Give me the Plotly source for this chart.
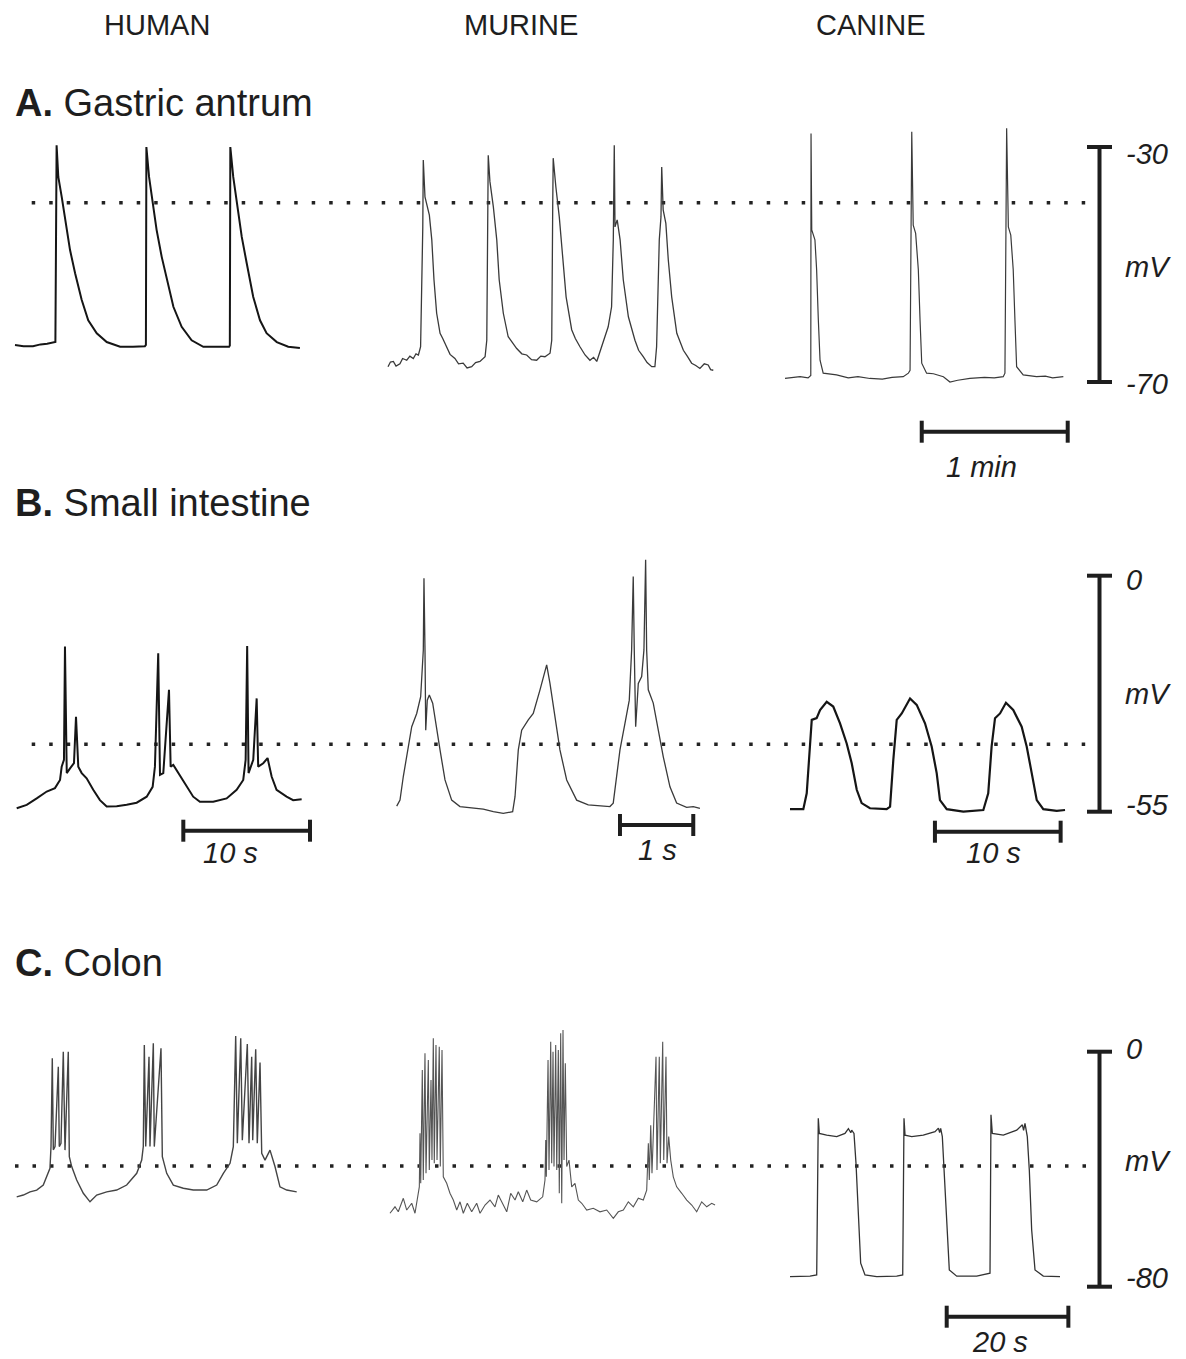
import plotly.graph_objects as go

W, H = 1186, 1359          # reference picture size
OX, OY = 8, 8              # page body margin that the browser adds around the figure
FW, FH = W - OX, H - OY    # figure size so that figure pixels line up with the reference

# ---------------- data: (time in s, membrane potential in mV) ----------------
human_a = [(0.0,-63.7),(3.5,-63.9),(7.4,-63.9),(10.5,-63.6),(13.2,-63.5),(16.6,-63.2),(17.1,-29.7),
           (17.8,-35.1),(19.2,-38.5),(20.6,-42.4),(22.6,-47.5),(24.7,-51.5),(27.4,-56.0),(30.1,-59.5),
           (33.6,-61.7),(37.7,-63.2),(43.2,-64.0),(48.5,-64.0),(53.4,-63.9),(53.8,-63.7),(54.0,-30.0),
           (55.1,-35.1),(56.6,-39.5),(58.2,-44.1),(60.3,-48.7),(62.4,-52.6),(65.1,-57.2),(68.5,-60.6),
           (72.6,-62.9),(77.4,-64.0),(82.9,-64.0),(88.0,-64.0),(88.3,-63.8),(88.5,-30.0),(89.7,-35.1),
           (91.4,-40.2),(93.2,-45.3),(95.2,-49.7),(97.9,-55.5),(100.7,-59.5),(103.4,-61.7),(107.6,-63.2),
           (112.3,-64.0),(117.1,-64.2)]

murine_a = [(0.0,-67.4),(1.0,-66.6),(2.2,-66.5),(3.3,-67.3),(4.9,-66.9),(6.0,-66.0),(7.7,-66.3),(9.0,-65.6),
            (10.4,-66.0),(11.5,-65.2),(12.5,-65.4),(13.4,-64.0),(14.3,-43.6),(14.5,-32.2),(15.2,-38.5),
            (17.0,-41.6),(18.0,-45.8),(18.9,-52.6),(20.0,-58.3),(21.4,-61.7),(22.5,-62.6),(24.1,-64.0),
            (25.5,-65.3),(27.5,-66.0),(29.0,-66.9),(30.9,-66.8),(32.5,-67.6),(34.4,-67.4),(36.0,-66.7),
            (37.8,-66.5),(39.0,-66.1),(39.9,-65.7),
            (40.6,-62.9),(41.1,-40.2),(41.2,-31.4),(41.9,-35.9),(43.3,-40.2),(44.7,-45.8),(45.7,-52.6),
            (47.4,-58.3),(49.4,-62.3),(51.0,-63.2),(52.9,-64.3),(55.0,-65.2),(57.0,-65.4),(59.0,-66.2),
            (61.1,-66.3),(62.8,-65.6),(64.5,-65.7),(66.6,-65.1),
            (67.3,-62.9),(67.7,-40.2),(67.9,-31.9),(69.0,-36.8),(70.4,-41.9),(71.8,-48.7),(73.2,-55.5),
            (75.5,-61.1),(77.0,-62.6),(78.9,-64.0),(81.0,-65.4),(83.0,-66.3),(84.5,-65.8),(85.8,-66.5),
            (87.3,-64.6),(88.5,-62.9),(90.5,-60.6),(91.9,-57.2),
            (92.6,-45.8),(93.0,-29.7),(93.3,-43.6),(94.2,-42.4),(95.4,-45.8),(96.7,-52.6),(98.8,-58.9),
            (101.5,-62.9),(103.0,-64.6),(104.9,-65.7),(106.5,-66.7),(108.4,-67.4),(109.7,-67.4),
            (110.4,-64.0),(111.5,-45.8),(112.2,-41.9),(112.5,-33.4),(113.1,-40.7),(114.2,-43.0),
            (115.2,-49.2),(116.6,-55.5),(118.7,-61.7),(121.4,-64.6),(123.0,-65.6),(124.8,-66.8),
            (126.5,-67.2),(128.2,-67.7),(130.0,-66.9),(131.6,-67.1),(132.6,-67.9),(133.7,-68.0)]

canine_a = [(0.0,-69.4),(3.0,-69.2),(6.2,-69.1),(9.5,-69.3),(10.6,-68.9),(10.7,-27.7),(11.0,-44.1),
            (12.3,-45.8),(13.0,-50.9),(13.7,-59.4),(14.4,-66.3),(15.7,-68.5),(18.0,-68.6),(21.2,-68.8),
            (26.0,-69.3),(30.0,-69.1),(34.9,-69.4),(40.0,-69.5),(44.0,-69.2),(48.6,-69.1),(50.7,-68.5),
            (51.4,-68.0),(52.1,-27.4),(52.7,-43.3),(53.7,-44.7),(54.8,-50.9),(55.5,-59.4),(56.2,-66.8),
            (58.2,-68.5),(61.0,-68.6),(65.1,-69.1),(67.8,-70.0),(71.0,-69.7),(76.0,-69.4),(82.0,-69.2),
            (86.0,-69.3),(89.7,-69.1),
            (90.4,-68.5),(91.1,-26.8),(91.8,-43.6),(92.8,-45.0),(93.8,-50.9),(94.5,-59.4),(95.2,-67.4),
            (97.9,-68.8),(100.5,-68.9),(103.4,-69.1),(107.0,-69.0),(110.0,-69.3),(114.4,-69.1)]

human_b = [(0.00,-54.2),(0.79,-53.4),(1.58,-51.9),(2.37,-50.3),(3.02,-49.5),(3.42,-47.6),(3.55,-44.5),
           (3.73,-42.9),(3.81,-16.5),(3.95,-46.0),(4.21,-44.9),(4.52,-43.7),(4.68,-32.9),(4.86,-44.5),
           (5.13,-46.0),(5.52,-47.2),(6.04,-49.9),(6.57,-52.3),(7.10,-53.8),(7.89,-53.7),(8.68,-53.4),
           (9.47,-52.9),(10.26,-51.5),(10.73,-49.2),(10.91,-44.5),(11.17,-18.1),(11.31,-46.4),
           (11.57,-46.0),(12.02,-26.6),(12.15,-44.5),(12.36,-44.1),(12.75,-46.0),(13.41,-49.2),
           (13.93,-51.5),(14.46,-52.7),(15.51,-52.7),(16.57,-51.9),(17.36,-49.9),(17.88,-47.6),
           (18.07,-42.9),(18.19,-16.4),(18.30,-46.0),(18.67,-42.9),(18.94,-28.6),(19.06,-44.5),
           (19.46,-43.7),(19.80,-42.5),(20.12,-46.8),(20.51,-49.9),(21.30,-51.5),(21.82,-52.3),
           (22.49,-52.1)]

murine_b = [(0.000,-53.7),(0.045,-52.3),(0.090,-46.8),(0.158,-39.8),(0.205,-35.2),(0.273,-32.1),
            (0.327,-28.2),(0.363,-17.3),(0.372,-0.6),(0.386,-17.3),(0.396,-36.0),(0.417,-29.0),
            (0.445,-27.8),(0.491,-29.7),(0.546,-35.2),(0.591,-40.6),(0.659,-47.6),(0.750,-52.3),
            (0.863,-53.8),(1.045,-54.2),(1.181,-54.4),(1.318,-55.0),(1.454,-55.4),(1.582,-55.0),
            (1.614,-51.5),(1.659,-40.6),(1.705,-36.0),(1.795,-33.6),(1.863,-32.1),(1.955,-26.6),
            (2.046,-20.8),(2.091,-25.1),(2.159,-32.9),(2.227,-40.6),(2.319,-47.6),(2.455,-52.3),
            (2.613,-53.4),(2.773,-53.7),(2.909,-53.8),(2.954,-53.0),(2.991,-47.6),(3.046,-40.6),
            (3.114,-34.4),(3.173,-29.0),(3.205,-17.3),(3.227,-0.2),(3.241,-17.3),(3.260,-35.2),
            (3.296,-25.1),(3.342,-23.5),(3.373,-17.3),(3.396,3.7),(3.410,-17.3),(3.432,-26.6),
            (3.500,-29.7),(3.568,-36.0),(3.637,-42.2),(3.728,-49.2),(3.819,-53.0),(3.955,-54.0),
            (4.046,-53.8),(4.137,-54.2)]

canine_b = [(0.00,-54.4),(1.06,-54.4),(1.33,-50.7),(1.59,-39.8),(1.73,-33.6),(2.12,-33.2),(2.39,-31.3),
            (2.92,-29.4),(3.44,-30.5),(3.98,-34.4),(4.51,-39.1),(4.91,-43.7),(5.31,-49.9),(5.70,-53.0),
            (6.36,-54.2),(7.69,-54.4),(7.96,-53.8),(8.22,-42.9),(8.49,-33.6),(8.89,-32.1),(9.55,-28.6),
            (10.08,-30.1),(10.74,-34.4),(11.27,-39.8),(11.67,-46.0),(11.93,-52.3),(12.47,-54.4),
            (13.79,-55.0),(15.38,-54.6),(15.77,-50.7),(16.04,-39.8),(16.31,-33.2),(16.71,-32.1),
            (17.18,-29.6),(17.76,-31.3),(18.43,-35.2),(18.83,-39.8),(19.23,-46.0),(19.63,-52.3),
            (20.15,-54.4),(21.22,-54.8),(21.88,-54.6)]

human_c = [(0.00,-49.4),(1.09,-48.8),(2.19,-47.7),(3.29,-47.1),(4.37,-45.4),(4.93,-42.6),(5.47,-39.7),
           (5.64,-32.3),(5.85,-2.2),(6.02,-33.4),(6.30,-32.3),(6.84,-5.1),(7.00,-32.3),(7.28,-31.2),
           (7.66,0.0),(7.94,-33.5),(8.48,0.0),(8.65,-35.7),(9.04,-39.1),(9.86,-43.7),(10.95,-48.2),
           (12.05,-51.1),(13.15,-48.8),(14.80,-47.7),(16.44,-47.1),(18.08,-45.4),(19.73,-41.4),
           (20.55,-36.9),(20.81,-32.3),(20.98,2.3),(21.21,-32.3),(21.75,-1.7),(21.91,-32.3),
           (22.46,2.9),(22.62,-32.3),(23.72,1.2),(23.94,-35.7),(24.66,-41.4),(25.75,-45.4),
           (27.39,-46.5),(29.03,-47.1),(31.24,-47.1),(32.88,-45.4),(33.97,-41.4),(35.07,-38.0),
           (35.61,-32.3),(36.00,5.3),(36.27,-31.2),(36.83,4.6),(37.09,-30.1),(37.91,2.6),(38.19,-31.2),
           (38.63,-1.7),(38.80,-30.1),(39.29,0.8),(39.55,-31.2),(40.00,-3.7),(40.28,-34.6),
           (40.82,-36.9),(41.64,-33.5),(42.46,-39.1),(43.28,-46.0),(44.39,-47.1),(46.03,-47.7)]

murine_c = [(0.00,-55.0),(0.82,-52.8),(1.36,-54.5),(2.19,-49.9),(2.75,-53.9),(3.57,-51.6),(4.11,-55.0),
            (4.65,-48.2),(4.82,-46.0),(4.93,-27.8),(5.05,-44.8),(5.31,-6.2),(5.47,-43.7),(5.75,-0.5),
            (5.92,-41.4),(6.30,-2.8),(6.46,-40.3),(6.74,-9.6),(6.90,-36.9),(7.12,4.6),(7.28,-38.0),
            (7.56,2.3),(7.73,-36.9),(8.10,1.7),(8.27,-39.1),(8.55,0.6),(8.76,-42.6),(9.32,-44.8),
            (9.86,-48.2),(10.41,-50.5),(10.97,-53.9),(11.51,-51.1),(12.05,-55.0),(12.71,-51.6),
            (13.43,-54.5),(14.25,-51.6),(14.80,-55.0),(15.62,-52.2),(16.44,-50.5),(17.26,-52.8),
            (17.80,-48.8),(18.63,-52.2),(19.19,-54.5),(19.84,-48.2),(20.55,-50.5),(21.09,-47.7),
            (21.82,-51.1),(22.47,-47.1),(23.13,-50.5),(24.12,-51.1),(25.10,-49.4),(25.48,-43.7),
            (25.60,-30.1),(25.70,-42.6),(25.98,-2.8),(26.14,-40.3),(26.42,3.4),(26.58,-38.0),
            (26.80,0.0),(26.96,-39.1),(27.24,2.3),(27.41,-40.3),(27.67,0.6),(27.83,-48.2),(28.06,6.3),
            (28.23,-51.6),(28.44,7.4),(28.61,-36.9),(28.82,-3.9),(29.05,-39.1),(29.43,-36.9),
            (29.87,-46.0),(30.41,-44.8),(30.96,-50.5),(31.52,-51.6),(32.34,-53.9),(33.42,-53.3),
            (34.52,-54.5),(35.63,-53.9),(36.71,-56.7),(37.53,-54.5),(38.36,-53.9),(39.18,-51.1),
            (40.00,-52.8),(40.82,-49.9),(41.64,-50.5),(42.20,-47.1),(42.47,-31.2),(42.63,-43.7),
            (42.86,-25.0),(43.07,-41.4),(43.73,-1.7),(43.89,-40.3),(44.27,-1.7),(44.44,-38.0),
            (44.83,3.4),(45.00,-36.9),(45.37,-1.7),(45.54,-38.0),(45.82,-28.9),(46.15,-36.9),
            (46.57,-42.6),(47.13,-46.0),(47.96,-48.2),(48.78,-50.5),(49.60,-52.2),(50.42,-54.5),
            (51.24,-51.1),(52.07,-52.8),(52.89,-51.6),(53.43,-52.2)]

canine_c = [(0.00,-76.6),(3.29,-76.4),(4.39,-76.0),(4.65,-22.7),(4.82,-27.8),(6.03,-28.4),(7.68,-28.9),
            (9.04,-27.8),(9.60,-26.2),(10.00,-27.6),(10.14,-26.7),(10.52,-27.8),(10.85,-38.0),
            (11.23,-55.0),(11.62,-72.0),(12.33,-76.0),(14.25,-76.6),(17.54,-76.4),(18.53,-76.0),
            (18.74,-22.7),(18.91,-28.4),(20.01,-28.9),(21.91,-28.4),(23.84,-27.2),(24.40,-26.0),
            (24.60,-27.5),(24.77,-26.1),(25.04,-28.9),(25.32,-40.3),(25.76,-60.7),(26.19,-74.3),
            (27.41,-76.4),(30.69,-76.4),(32.88,-75.4),(33.04,-21.5),(33.26,-27.8),(35.07,-28.4),
            (37.27,-26.7),(38.20,-24.9),(38.40,-26.8),(38.63,-24.4),(39.01,-28.9),(39.34,-40.3),
            (39.73,-60.7),(40.28,-74.3),(41.64,-76.4),(44.39,-76.6)]

# reference (dotted) levels and voltage scale bars, mV
dotted_mv = {'A': -39.5, 'B': -39.3, 'C': -38.9}
vbar_mv = {'A': (-30, -70), 'B': (0, -55), 'C': (0, -80)}
vbar_labels = {'A': ('-30', 'mV', '-70'), 'B': ('0', 'mV', '-55'), 'C': ('0', 'mV', '-80')}
# time scale bars: (panel index, start s, length s, label)
tbars = [(3, 56.2, 60, '1 min'), (4, 13.15, 10, '10 s'), (5, 3.046, 1, '1 s'),
         (6, 11.53, 10, '10 s'), (9, 25.76, 20, '20 s')]
species = ['HUMAN', 'MURINE', 'CANINE']
titles = [('A.', 'Gastric antrum'), ('B.', 'Small intestine'), ('C.', 'Colon')]

# ---------------- layout geometry (reference pixels) ----------------
ROWS = {
    'A': dict(ref_mv=-30.0, ref_py=147.0, ppmv=5.875, dom=(110, 400), idx=1),
    'B': dict(ref_mv=0.0, ref_py=575.7, ppmv=4.291, dom=(540, 835), idx=2),
    'C': dict(ref_mv=0.0, ref_py=1051.7, ppmv=2.9375, dom=(1010, 1300), idx=3),
}
# row, data, x-origin px, px per second, domain px, line style
PANELS = [
    ('A', human_a, 15.0, 2.433, (10, 350), dict(color='#151515', width=2.0)),
    ('A', murine_a, 388.0, 2.433, (360, 745), dict(color='#3a3a3a', width=1.3)),
    ('A', canine_a, 785.0, 2.433, (760, 1080), dict(color='#3a3a3a', width=1.2)),
    ('B', human_b, 16.7, 12.67, (10, 350), dict(color='#151515', width=2.0)),
    ('B', murine_b, 396.7, 73.3, (360, 745), dict(color='#3a3a3a', width=1.3)),
    ('B', canine_b, 790.0, 12.57, (760, 1080), dict(color='#151515', width=2.2)),
    ('C', human_c, 16.7, 6.083, (10, 350), dict(color='#444444', width=1.4)),
    ('C', murine_c, 390.0, 6.083, (360, 745), dict(color='#555555', width=1.1)),
    ('C', canine_c, 790.0, 6.083, (760, 1080), dict(color='#333333', width=1.3)),
]
dot_start_px = {'A': 31.7, 'B': 31.7, 'C': 15.0}
VBAR_X = 1099.5
VLAB_PY = {'A': (154, 267, 384), 'B': (580, 694, 805), 'C': (1049, 1161, 1278)}
TBAR_PY = {3: 431.7, 4: 830.7, 5: 825.0, 6: 831.7, 9: 1316.7}
TLAB_PX = {3: (981, 467), 4: (230, 853), 5: (657, 850), 6: (993, 853), 9: (1000, 1342)}
HEAD_PX = [(157, 25), (521, 25), (871, 25)]
TITLE_PY = [103, 503, 963]

FONT = 'Liberation Sans, Arial, Helvetica, sans-serif'
INK = '#1e1e1e'


def mv_at(row, py):
    r = ROWS[row]
    return r['ref_mv'] - (py - r['ref_py']) / r['ppmv']


def fx(px):
    return (px - OX) / FW


def fy(py):
    return 1 - (py - OY) / FH


fig = go.Figure()
layout = dict(width=FW, height=FH, margin=dict(l=0, r=0, t=0, b=0),
              paper_bgcolor='white', plot_bgcolor='white', showlegend=False)

for key, r in ROWS.items():
    yt, yb = r['dom']
    name = 'yaxis' if r['idx'] == 1 else 'yaxis%d' % r['idx']
    layout[name] = dict(domain=[fy(yb), fy(yt)], range=[mv_at(key, yb), mv_at(key, yt)],
                        visible=False, anchor='free', position=0, fixedrange=True)

for i, (row, data, x0, pps, (xl, xr), style) in enumerate(PANELS, start=1):
    yi = ROWS[row]['idx']
    yref = 'y' if yi == 1 else 'y%d' % yi
    xref = 'x' if i == 1 else 'x%d' % i
    name = 'xaxis' if i == 1 else 'xaxis%d' % i
    layout[name] = dict(domain=[fx(xl), fx(xr)], range=[(xl - x0) / pps, (xr - x0) / pps],
                        visible=False, anchor=yref, fixedrange=True)
    fig.add_trace(go.Scatter(x=[p[0] for p in data], y=[p[1] for p in data], mode='lines',
                             line=dict(color=style['color'], width=style['width']),
                             xaxis=xref, yaxis=yref, hoverinfo='skip'))

shapes = []
annotations = []

# dotted reference lines and vertical voltage bars
for key, r in ROWS.items():
    yi = r['idx']
    yref = 'y' if yi == 1 else 'y%d' % yi
    shapes.append(dict(type='line', xref='paper', yref=yref, x0=fx(dot_start_px[key]),
                       x1=fx(VBAR_X), y0=dotted_mv[key], y1=dotted_mv[key],
                       line=dict(color='#222', width=3.5, dash='3.5px,14px'), layer='below'))
    top, bot = vbar_mv[key]
    shapes.append(dict(type='line', xref='paper', yref=yref, x0=fx(VBAR_X), x1=fx(VBAR_X),
                       y0=top, y1=bot, line=dict(color=INK, width=4)))
    for v in (top, bot):
        shapes.append(dict(type='line', xref='paper', yref=yref, x0=fx(VBAR_X - 12.5),
                           x1=fx(VBAR_X + 12.5), y0=v, y1=v, line=dict(color=INK, width=4)))
    for txt, py in zip(vbar_labels[key], VLAB_PY[key]):
        annotations.append(dict(text='<i>%s</i>' % txt, xref='paper', yref='paper',
                                x=fx(1123 if txt == 'mV' else 1124), y=fy(py),
                                xanchor='left', yanchor='middle', showarrow=False,
                                font=dict(family=FONT, size=29, color=INK)))

# time scale bars
for (pi, t0, length, label) in tbars:
    xref = 'x' if pi == 1 else 'x%d' % pi
    py = TBAR_PY[pi]
    shapes.append(dict(type='line', xref=xref, yref='paper', x0=t0, x1=t0 + length,
                       y0=fy(py), y1=fy(py), line=dict(color=INK, width=4)))
    for t in (t0, t0 + length):
        shapes.append(dict(type='line', xref=xref, yref='paper', x0=t, x1=t,
                           y0=fy(py - 11), y1=fy(py + 11), line=dict(color=INK, width=4)))
    lx, ly = TLAB_PX[pi]
    annotations.append(dict(text='<i>%s</i>' % label, xref='paper', yref='paper',
                            x=fx(lx), y=fy(ly), xanchor='center', yanchor='middle',
                            showarrow=False, font=dict(family=FONT, size=29, color=INK)))

# column headers
for name, (cx, cy) in zip(species, HEAD_PX):
    annotations.append(dict(text=name, xref='paper', yref='paper', x=fx(cx), y=fy(cy),
                            xanchor='center', yanchor='middle', showarrow=False,
                            font=dict(family=FONT, size=29, color=INK)))

# row titles
for (letter, title), cy in zip(titles, TITLE_PY):
    annotations.append(dict(text='<b>%s</b> %s' % (letter, title), xref='paper', yref='paper',
                            x=fx(13), y=fy(cy), xanchor='left', yanchor='middle',
                            showarrow=False, font=dict(family=FONT, size=38, color=INK)))

layout['shapes'] = shapes
layout['annotations'] = annotations
fig.update_layout(**layout)
fig.write_html('out.html')
